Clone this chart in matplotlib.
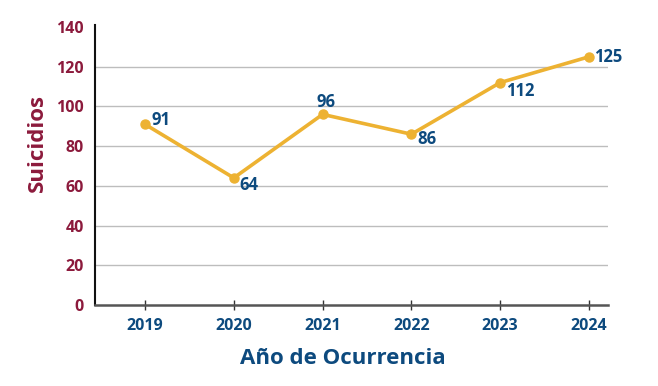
import matplotlib
matplotlib.use("Agg")
import matplotlib.pyplot as plt

years = ["2019", "2020", "2021", "2022", "2023", "2024"]
suicidios = [91, 64, 96, 86, 112, 125]
y_ticks = [0, 20, 40, 60, 80, 100, 120, 140]
# label offsets (pixels) and alignment per point
label_offsets = [(7, 4), (6, -7), (3, 12), (6, -5), (6, -8), (5, 0)]
label_ha = ["left", "left", "center", "left", "left", "left"]

LINE = "#EDB232"
NAVY = "#0D4A7E"
RED = "#8C1A3C"

plt.rcParams['font.family'] = ['Open Sans', 'DejaVu Sans']

fig = plt.figure(figsize=(6.58, 3.86), dpi=100)
ax = fig.add_axes([95/658, 1-305/386, (608-95)/658, (305-25)/386])

x = list(range(len(years)))
ax.plot(x, suicidios, color=LINE, lw=2.6, marker='o', markersize=6.5, zorder=3)

for xi, v, off, ha in zip(x, suicidios, label_offsets, label_ha):
    ax.annotate(str(v), (xi, v), xytext=off, textcoords='offset pixels',
                ha=ha, va='center', color=NAVY, fontsize=12, fontweight='bold')

ax.set_xlim(-0.563, 5.214)
ax.set_ylim(0, 141)
ax.set_xticks(x)
ax.set_xticklabels(years, color=NAVY, fontsize=11.5, fontweight='bold')
ax.set_yticks(y_ticks)
ax.set_yticklabels([str(t) for t in y_ticks], color=RED, fontsize=11.5, fontweight='bold')
ax.tick_params(axis='y', length=0, pad=8)
ax.tick_params(axis='x', direction='inout', length=7, width=1, color='#333333', pad=6)

for t in y_ticks[1:-1]:
    ax.axhline(t, color='#BDBDBD', lw=1, zorder=1)

for s in ['top', 'right']:
    ax.spines[s].set_visible(False)
ax.spines['left'].set_color('#111111')
ax.spines['left'].set_linewidth(1.5)
ax.spines['bottom'].set_color('#555555')
ax.spines['bottom'].set_linewidth(1.8)

fig.text(343/658, 1-359/386, "Año de Ocurrencia", color=NAVY, fontsize=16,
         fontweight='bold', ha='center', va='center')
fig.text(37/658, 1-143/386, "Suicidios", color=RED, fontsize=16,
         fontweight='bold', ha='center', va='center', rotation=90)

fig.savefig("out.png", dpi=100)
